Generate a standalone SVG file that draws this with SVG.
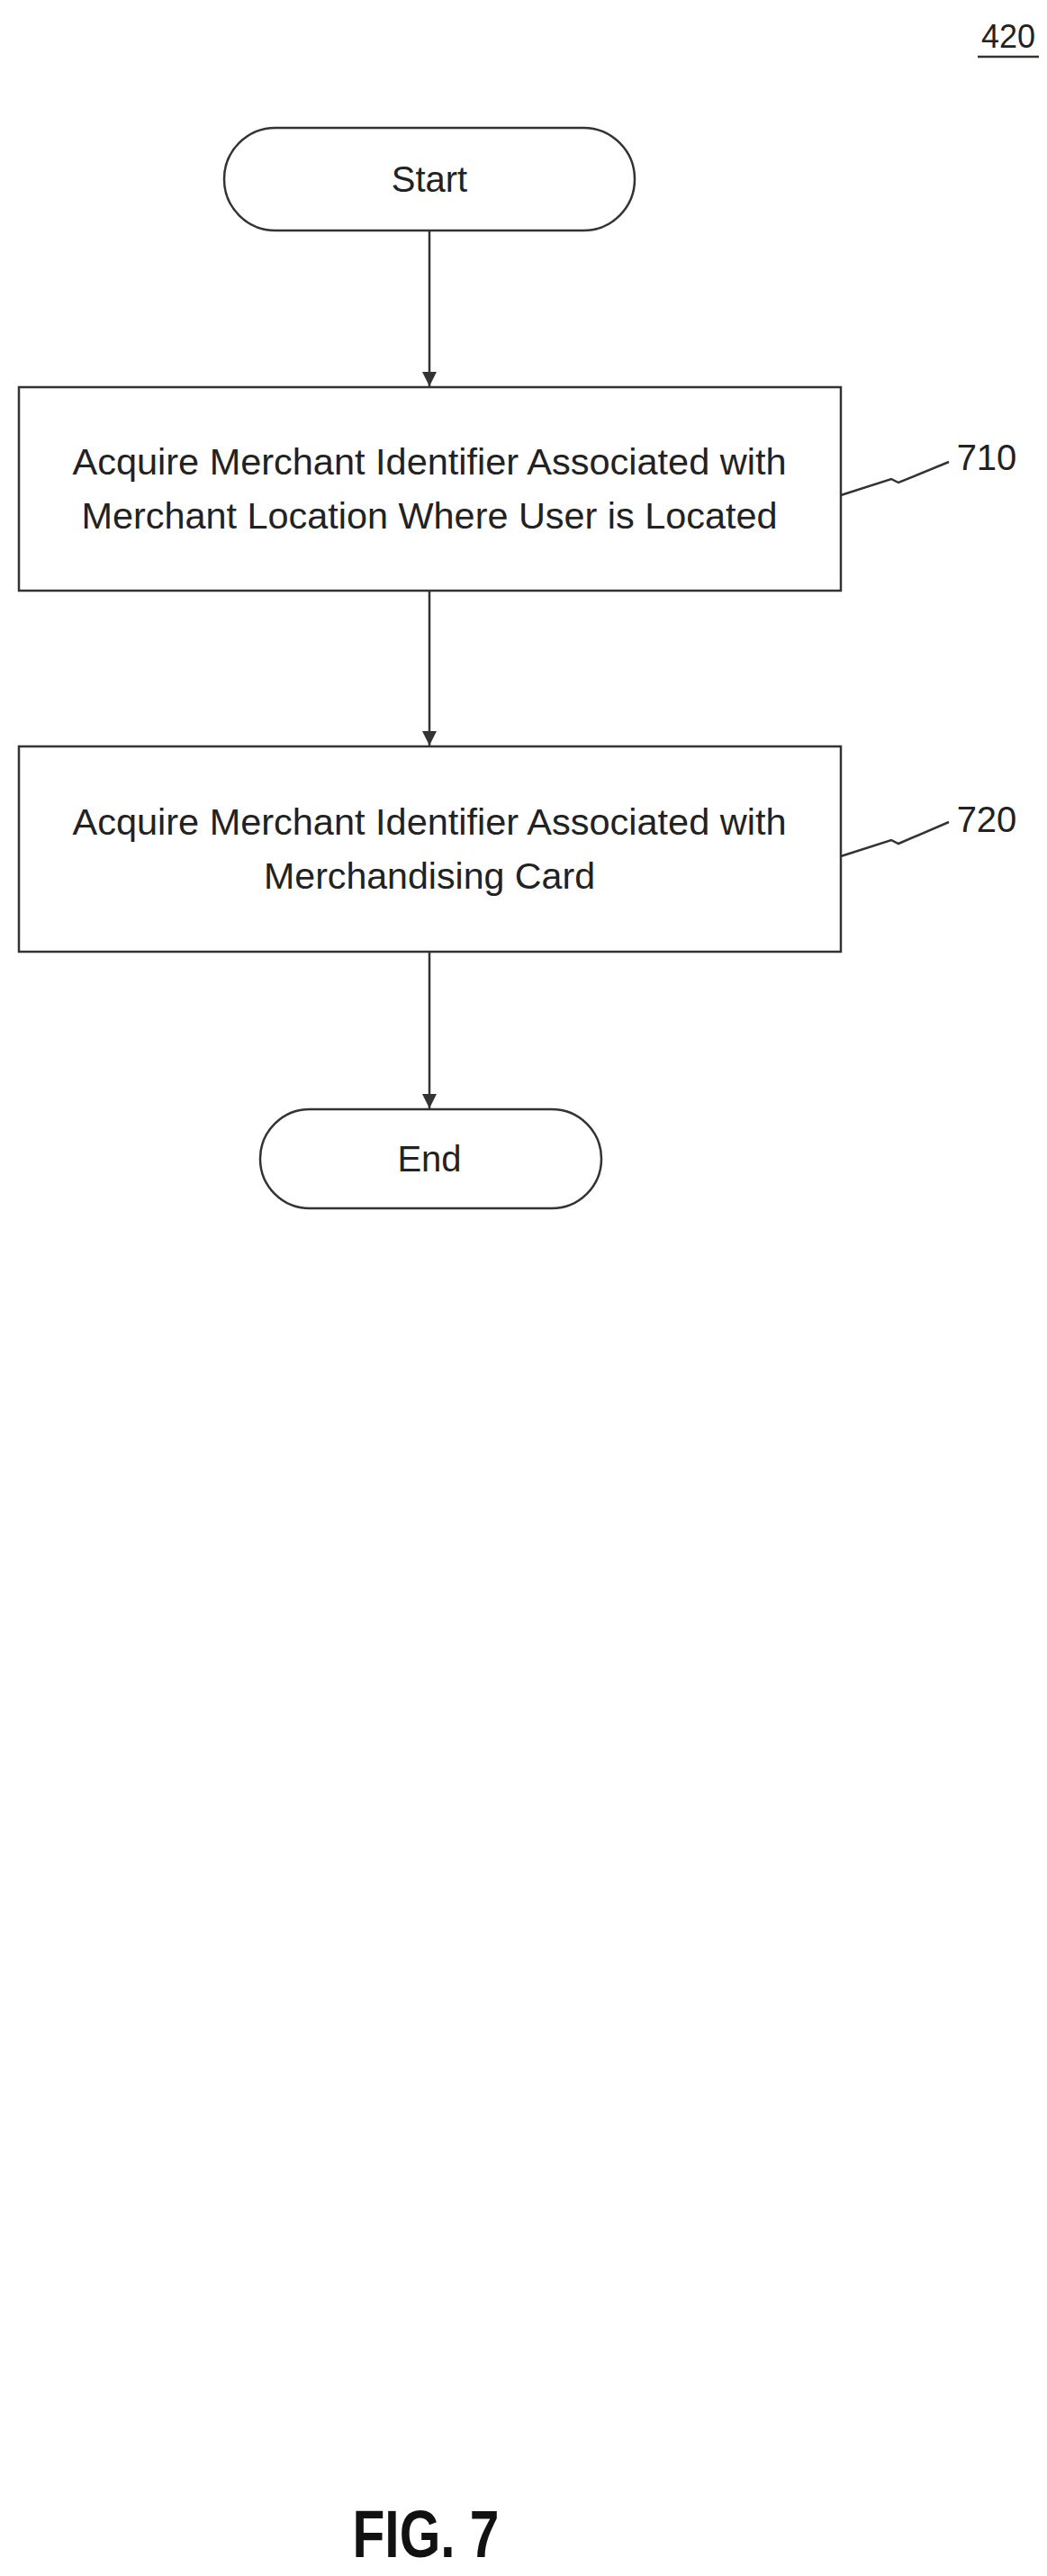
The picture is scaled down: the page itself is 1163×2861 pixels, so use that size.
<svg xmlns="http://www.w3.org/2000/svg" width="1163" height="2861" viewBox="0 0 1163 2861">
<defs>
<marker id="ah" viewBox="0 0 10 10" refX="10" refY="5" markerWidth="16" markerHeight="16" markerUnits="userSpaceOnUse" orient="auto"><path d="M0,0 L10,5 L0,10 z" fill="#333"/></marker>
</defs>
<style>
.s{fill:#fff;stroke:#333;stroke-width:2.5}
.t{font-family:"Liberation Sans",Arial,sans-serif;font-size:40px;fill:#222;text-anchor:middle}
.c{stroke:#333;stroke-width:2.5;fill:none}
</style>
<rect width="1163" height="2861" fill="#fff"/>
<g id="ref420"><text x="1120" y="53" class="t" style="font-size:36px">420</text><line x1="1086" y1="63" x2="1154" y2="63" class="c"/></g>
<g id="start"><rect x="249" y="142" width="456" height="114" rx="57" class="s"/><text x="477" y="213" class="t">Start</text></g>
<g id="n710"><rect x="21" y="430" width="913" height="226" class="s"/>
<text x="477" y="527" class="t" textLength="793" lengthAdjust="spacingAndGlyphs">Acquire Merchant Identifier Associated with</text>
<text x="477" y="587" class="t" textLength="773" lengthAdjust="spacingAndGlyphs">Merchant Location Where User is Located</text></g>
<g id="n720"><rect x="21" y="829" width="913" height="228" class="s"/>
<text x="477" y="927" class="t" textLength="793" lengthAdjust="spacingAndGlyphs">Acquire Merchant Identifier Associated with</text>
<text x="477" y="987" class="t" textLength="368" lengthAdjust="spacingAndGlyphs">Merchandising Card</text></g>
<g id="end"><rect x="289" y="1232" width="379" height="110" rx="55" class="s"/><text x="477" y="1301" class="t">End</text></g>
<g id="lbl710"><path d="M934,550 L990,532 L998,536 L1054,513" class="c"/><text x="1096" y="522" class="t">710</text></g>
<g id="lbl720"><path d="M934,951 L990,933 L998,937 L1054,913" class="c"/><text x="1096" y="924" class="t">720</text></g>
<g id="connectors">
<line x1="477" y1="256" x2="477" y2="429" class="c" marker-end="url(#ah)"/>
<line x1="477" y1="656" x2="477" y2="828" class="c" marker-end="url(#ah)"/>
<line x1="477" y1="1057" x2="477" y2="1231" class="c" marker-end="url(#ah)"/>
</g>
<text x="473" y="2840" style="font-family:'Liberation Sans',Arial,sans-serif;font-weight:bold;font-size:74px;fill:#111;text-anchor:middle" textLength="163" lengthAdjust="spacingAndGlyphs">FIG. 7</text>
</svg>
